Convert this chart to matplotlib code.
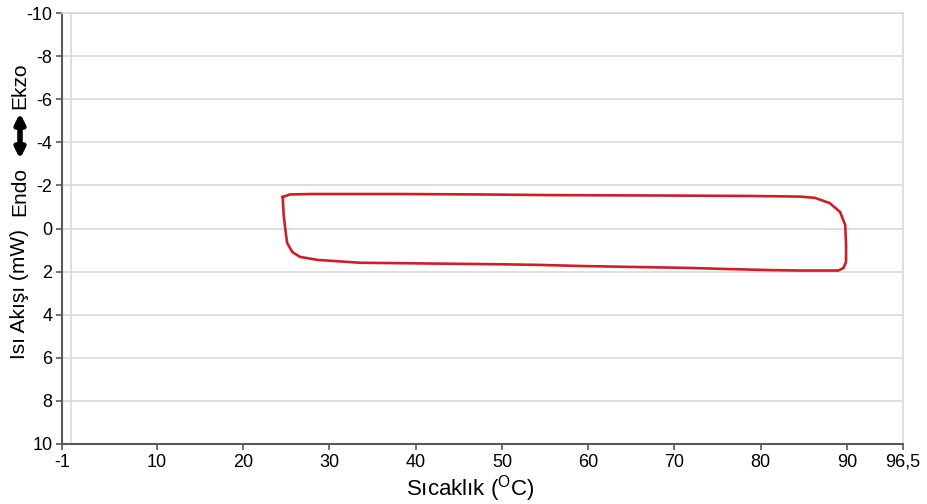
import matplotlib
matplotlib.use('Agg')
import matplotlib.pyplot as plt

plt.rcParams['font.family'] = ['Liberation Sans', 'DejaVu Sans']
plt.rcParams['mathtext.fontset'] = 'custom'
plt.rcParams['mathtext.rm'] = 'Liberation Sans'

# heating (top branch, left to right) then cooling (bottom branch, right to left)
temp = [24.6, 25.4, 28.1, 38.2, 47.5, 55.6, 68.7, 78.8, 84.6, 86.3, 88.0, 89.2,
        89.8, 89.9, 89.9, 89.6, 89.0, 84.6, 81.1, 76.1, 71.8, 66.0, 59.1, 54.4,
        49.8, 40.5, 33.6, 28.7, 26.6, 25.7, 25.1, 24.9, 24.7, 24.6, 24.6]
heat_flow = [-1.46, -1.58, -1.60, -1.60, -1.58, -1.55, -1.53, -1.51, -1.48, -1.42,
             -1.18, -0.77, -0.16, 0.77, 1.55, 1.83, 1.95, 1.95, 1.93, 1.88, 1.83,
             1.79, 1.74, 1.69, 1.66, 1.62, 1.59, 1.46, 1.32, 1.09, 0.67, 0.07,
             -0.63, -1.32, -1.46]

x_ticks = [-1, 10, 20, 30, 40, 50, 60, 70, 80, 90, 96.5]
x_tick_labels = ['-1', '10', '20', '30', '40', '50', '60', '70', '80', '90', '96,5']
x_grid = [0, 10, 20, 30, 40, 50, 60, 70, 80, 90]
y_ticks = [-10, -8, -6, -4, -2, 0, 2, 4, 6, 8, 10]

grid_color = '#d9d9d9'
axis_color = '#595959'

fig = plt.figure(figsize=(9.28, 5.04), dpi=100)
ax = fig.add_axes([62 / 928, 1 - 444 / 504, (903 - 62) / 928, (444 - 13) / 504])

ax.plot(temp, heat_flow, color='#cc1f27', lw=1.9, solid_joinstyle='round')

ax.set_xlim(-1, 96.5)
ax.set_ylim(10, -10)

ax.set_xticks(x_ticks)
ax.set_xticklabels(x_tick_labels)
ax.set_xticks(x_grid, minor=True)
ax.set_yticks(y_ticks)
ax.set_yticklabels([str(v) for v in y_ticks])

ax.grid(False)
ax.grid(True, axis='x', which='minor', color=grid_color, lw=1.2)
ax.grid(True, axis='y', which='major', color=grid_color, lw=1.2)
ax.set_axisbelow(True)

ax.tick_params(axis='both', which='major', direction='out', length=4, width=1.2,
               color=axis_color, labelsize=13, pad=3)
ax.tick_params(axis='x', which='minor', length=0)

ax.spines['left'].set_color(axis_color)
ax.spines['bottom'].set_color(axis_color)
ax.spines['left'].set_linewidth(1.5)
ax.spines['bottom'].set_linewidth(1.5)
ax.spines['top'].set_color(grid_color)
ax.spines['right'].set_color(grid_color)
ax.spines['top'].set_linewidth(1.2)
ax.spines['right'].set_linewidth(1.2)

# x label
fig.text(470 / 928, 15 / 504, r'Sıcaklık ($^{\mathrm{O}}$C)', fontsize=16,
         ha='center', va='center')

# y label pieces: "Isı Akışı (mW)  Endo <-> Ekzo"
fig.text(20 / 928, 210 / 504, 'Isı Akışı (mW)', fontsize=15, rotation=90,
         ha='center', va='center')
fig.text(20 / 928, 312 / 504, 'Endo', fontsize=15, rotation=90,
         ha='center', va='center')
fig.text(20 / 928, 418 / 504, 'Ekzo', fontsize=15, rotation=90,
         ha='center', va='center')
ax.annotate('', xy=(20, 391), xytext=(20, 345), xycoords='figure pixels',
            textcoords='figure pixels',
            arrowprops=dict(arrowstyle='<|-|>', lw=4, color='black',
                            mutation_scale=14, shrinkA=0, shrinkB=0))

fig.savefig('out.png', dpi=100)
